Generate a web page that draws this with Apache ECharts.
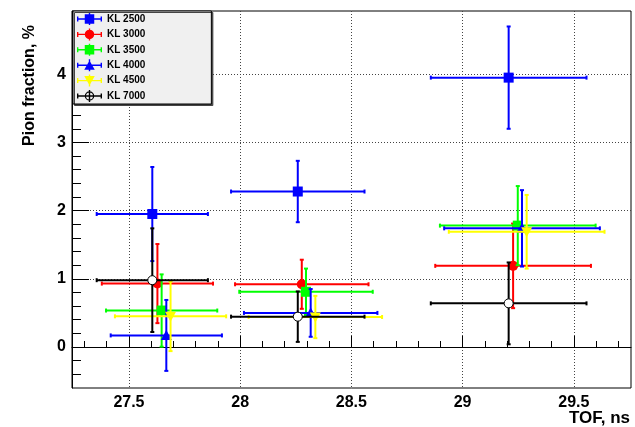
<!DOCTYPE html>
<html>
<head>
<meta charset="utf-8">
<script src="https://cdn.jsdelivr.net/npm/echarts@6/dist/echarts.min.js"></script>
<style>
  html, body { margin: 0; padding: 0; background: #ffffff; }
  #chart { width: 635px; height: 427px; }
</style>
</head>
<body>
<div id="chart"></div>
<script>
// Pion fraction (%) versus time of flight (ns) for several KL settings,
// each point carrying symmetric errors in TOF and in the fraction.

const seriesNames = ['KL 2500', 'KL 3000', 'KL 3500', 'KL 4000', 'KL 4500', 'KL 7000'];

const tofKL2500 = [27.605, 28.259, 29.207];
const fracKL2500 = [1.95, 2.28, 3.95];
const tofErrKL2500 = [0.25, 0.30, 0.35];
const fracErrKL2500 = [0.69, 0.45, 0.75];

const tofKL3000 = [27.628, 28.277, 29.227];
const fracKL3000 = [0.93, 0.92, 1.19];
const tofErrKL3000 = [0.25, 0.30, 0.35];
const fracErrKL3000 = [0.58, 0.36, 0.62];

const tofKL3500 = [27.647, 28.296, 29.248];
const fracKL3500 = [0.535, 0.81, 1.78];
const tofErrKL3500 = [0.25, 0.30, 0.35];
const fracErrKL3500 = [0.53, 0.34, 0.58];

const tofKL4000 = [27.668, 28.317, 29.267];
const fracKL4000 = [0.17, 0.50, 1.74];
const tofErrKL4000 = [0.25, 0.30, 0.35];
const fracErrKL4000 = [0.52, 0.35, 0.56];

const tofKL4500 = [27.687, 28.338, 29.288];
const fracKL4500 = [0.45, 0.44, 1.69];
const tofErrKL4500 = [0.25, 0.30, 0.35];
const fracErrKL4500 = [0.51, 0.31, 0.54];

const tofKL7000 = [27.605, 28.259, 29.207];
const fracKL7000 = [0.98, 0.445, 0.64];
const tofErrKL7000 = [0.25, 0.30, 0.35];
const fracErrKL7000 = [0.76, 0.37, 0.60];

// Axis ticks
const xMajorTicks = [27.5, 28, 28.5, 29, 29.5];
const xMinorTicks = [27.3, 27.4, 27.6, 27.7, 27.8, 27.9, 28.1, 28.2, 28.3, 28.4,
                     28.6, 28.7, 28.8, 28.9, 29.1, 29.2, 29.3, 29.4, 29.6, 29.7];
const yMajorTicks = [0, 1, 2, 3, 4];
const yMinorTicks = [-0.4, -0.2, 0.2, 0.4, 0.6, 0.8, 1.2, 1.4, 1.6, 1.8,
                     2.2, 2.4, 2.6, 2.8, 3.2, 3.4, 3.6, 3.8, 4.2, 4.4, 4.6, 4.8];

const X_MIN = 27.244, X_MAX = 29.757;
const Y_MIN = -0.601, Y_MAX = 4.927;

const groups = [
  { tof: tofKL2500, frac: fracKL2500, tofErr: tofErrKL2500, fracErr: fracErrKL2500 },
  { tof: tofKL3000, frac: fracKL3000, tofErr: tofErrKL3000, fracErr: fracErrKL3000 },
  { tof: tofKL3500, frac: fracKL3500, tofErr: tofErrKL3500, fracErr: fracErrKL3500 },
  { tof: tofKL4000, frac: fracKL4000, tofErr: tofErrKL4000, fracErr: fracErrKL4000 },
  { tof: tofKL4500, frac: fracKL4500, tofErr: tofErrKL4500, fracErr: fracErrKL4500 },
  { tof: tofKL7000, frac: fracKL7000, tofErr: tofErrKL7000, fracErr: fracErrKL7000 }
];

// Marker style per series
const styles = [
  { color: '#0000ff', marker: 'square' },
  { color: '#ff0000', marker: 'circle' },
  { color: '#00ff00', marker: 'square' },
  { color: '#0000ff', marker: 'triUp' },
  { color: '#ffff00', marker: 'triDown' },
  { color: '#000000', marker: 'openCircle' }
];

const FONT = 'Liberation Sans, Arial, Helvetica, sans-serif';
const ERR_LW = 2;
const CAP = 2;
const MS = 10;

function markerShape(kind, cx, cy, color) {
  const h = MS / 2;
  switch (kind) {
    case 'square':
      return { type: 'rect', shape: { x: cx - h, y: cy - h, width: MS, height: MS }, style: { fill: color } };
    case 'circle':
      return { type: 'circle', shape: { cx: cx, cy: cy, r: h }, style: { fill: color } };
    case 'triUp':
      return { type: 'polygon', shape: { points: [[cx - 5.5, cy + 4.5], [cx, cy - 5.5], [cx + 5.5, cy + 4.5]] }, style: { fill: color } };
    case 'triDown':
      return { type: 'polygon', shape: { points: [[cx - 5.5, cy - 4.5], [cx + 5.5, cy - 4.5], [cx, cy + 5.5]] }, style: { fill: color } };
    default:
      return { type: 'circle', shape: { cx: cx, cy: cy, r: h - 0.5 }, style: { fill: '#ffffff', stroke: color, lineWidth: 1 } };
  }
}

function makeRenderItem(style) {
  return function (params, api) {
    const x = api.value(0), y = api.value(1), ex = api.value(2), ey = api.value(3);
    const c = api.coord([x, y]);
    const l = api.coord([x - ex, y]);
    const r = api.coord([x + ex, y]);
    const t = api.coord([x, y + ey]);
    const b = api.coord([x, y - ey]);
    const ls = { stroke: style.color, lineWidth: ERR_LW };
    return {
      type: 'group',
      children: [
        { type: 'line', shape: { x1: l[0], y1: c[1], x2: r[0], y2: c[1] }, style: ls },
        { type: 'line', shape: { x1: c[0], y1: t[1], x2: c[0], y2: b[1] }, style: ls },
        { type: 'line', shape: { x1: l[0], y1: c[1] - CAP, x2: l[0], y2: c[1] + CAP }, style: ls },
        { type: 'line', shape: { x1: r[0], y1: c[1] - CAP, x2: r[0], y2: c[1] + CAP }, style: ls },
        { type: 'line', shape: { x1: c[0] - CAP, y1: t[1], x2: c[0] + CAP, y2: t[1] }, style: ls },
        { type: 'line', shape: { x1: c[0] - CAP, y1: b[1], x2: c[0] + CAP, y2: b[1] }, style: ls },
        markerShape(style.marker, c[0], c[1], style.color)
      ]
    };
  };
}

// Legend icons: error bar line with end caps plus the marker (25 x 12 box)
const ICON_BASE = 'M0,5.3h25v1.4h-25Z M0,3.5h1.4v5h-1.4Z M23.6,3.5h1.4v5h-1.4Z M11.8,0h1.4v12h-1.4Z ';
const ICON_MARK = {
  square: 'M7.75,1.25h9.5v9.5h-9.5Z',
  circle: 'M7.75,6a4.75,4.75 0 1,1 9.5,0a4.75,4.75 0 1,1 -9.5,0Z',
  triUp: 'M7.25,10.5L12.5,1.2L17.75,10.5Z',
  triDown: 'M7.25,1.5L17.75,1.5L12.5,10.8Z',
  openCircle: 'M7.75,6a4.75,4.75 0 1,1 9.5,0a4.75,4.75 0 1,1 -9.5,0Z M9,6a3.5,3.5 0 1,0 7,0a3.5,3.5 0 1,0 -7,0Z'
};

const series = groups.map(function (g, i) {
  return {
    name: seriesNames[i],
    type: 'custom',
    renderItem: makeRenderItem(styles[i]),
    itemStyle: { color: styles[i].color },
    encode: { x: 0, y: 1 },
    data: g.tof.map(function (v, k) { return [v, g.frac[k], g.tofErr[k], g.fracErr[k]]; }),
    clip: false
  };
});

const dottedGrid = { show: true, lineStyle: { color: '#444', width: 1, type: [1, 2] } };

const option = {
  animation: false,
  backgroundColor: '#ffffff',
  grid: { left: 72, top: 11, right: 4, bottom: 39, show: true, borderColor: '#000', borderWidth: 1, backgroundColor: 'transparent' },
  xAxis: [
    {
      type: 'value', position: 'bottom', min: X_MIN, max: X_MAX,
      axisLine: { show: true, lineStyle: { color: '#000', width: 1 } },
      axisTick: { show: true, inside: true, length: 11, customValues: xMajorTicks, lineStyle: { color: '#000', width: 1 } },
      axisLabel: { show: true, customValues: xMajorTicks, margin: 7, color: '#000', fontSize: 16, fontWeight: 'bold', fontFamily: FONT },
      splitLine: dottedGrid
    },
    {
      type: 'value', position: 'bottom', min: X_MIN, max: X_MAX,
      axisLine: { show: false },
      axisTick: { show: true, inside: true, length: 6, customValues: xMinorTicks, lineStyle: { color: '#000', width: 1 } },
      axisLabel: { show: false },
      splitLine: { show: false }
    }
  ],
  yAxis: [
    {
      type: 'value', position: 'left', min: Y_MIN, max: Y_MAX,
      axisLine: { show: true, lineStyle: { color: '#000', width: 1 } },
      axisTick: { show: true, inside: true, length: 17, customValues: yMajorTicks, lineStyle: { color: '#000', width: 1 } },
      axisLabel: { show: true, customValues: yMajorTicks, margin: 6, color: '#000', fontSize: 16, fontWeight: 'bold', fontFamily: FONT },
      splitLine: dottedGrid
    },
    {
      type: 'value', position: 'left', min: Y_MIN, max: Y_MAX,
      axisLine: { show: false },
      axisTick: { show: true, inside: true, length: 9, customValues: yMinorTicks, lineStyle: { color: '#000', width: 1 } },
      axisLabel: { show: false },
      splitLine: { show: false }
    }
  ],
  legend: {
    orient: 'vertical',
    left: 73, top: 11,
    padding: [2, 66, 2, 4],
    itemWidth: 25, itemHeight: 12, itemGap: 3.4,
    backgroundColor: '#f0f0f0',
    borderColor: '#000', borderWidth: 1,
    shadowColor: '#444', shadowBlur: 0, shadowOffsetX: 1.5, shadowOffsetY: 1.5,
    selectedMode: false,
    textStyle: { color: '#000', fontSize: 10, fontWeight: 'bold', fontFamily: FONT },
    data: seriesNames.map(function (n, i) {
      return {
        name: n,
        icon: 'path://' + ICON_BASE + ICON_MARK[styles[i].marker],
        itemStyle: { color: styles[i].color, borderWidth: 0, opacity: 1 }
      };
    })
  },
  graphic: [
    {
      type: 'text', x: 630, y: 418,
      style: { text: 'TOF, ns', fill: '#000', fontSize: 17, fontWeight: 'bold', fontFamily: FONT, align: 'right', verticalAlign: 'middle' }
    },
    {
      type: 'text', x: 30, y: 25, rotation: Math.PI / 2,
      style: { text: 'Pion fraction, %', fill: '#000', fontSize: 16, fontWeight: 'bold', fontFamily: FONT, align: 'right', verticalAlign: 'middle' }
    }
  ],
  series: series
};

const chart = echarts.init(document.getElementById('chart'), null, { renderer: 'canvas' });
chart.setOption(option);
</script>
</body>
</html>
